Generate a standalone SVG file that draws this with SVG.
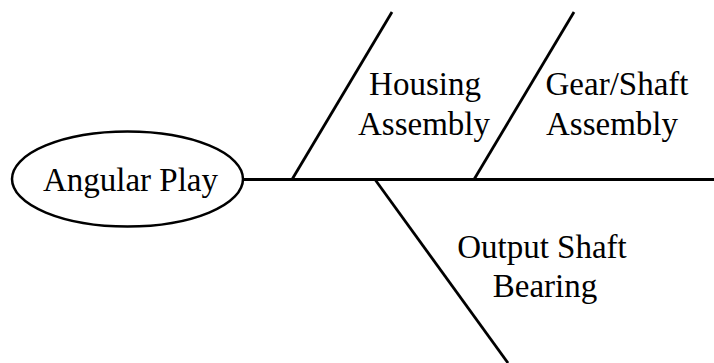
<svg xmlns="http://www.w3.org/2000/svg" width="714" height="363" viewBox="0 0 714 363">
<style>
.t{font-family:"Liberation Serif","Times New Roman",serif;font-size:33px;fill:#000;text-anchor:middle}
.ln{stroke:#000;stroke-width:2.8;fill:none;stroke-linecap:butt}
</style>
<rect width="714" height="363" fill="#fff"/>
<g id="connectors">
<line class="ln" x1="243" y1="179.5" x2="714" y2="179.5"/>
<line class="ln" x1="292" y1="179.5" x2="392" y2="12"/>
<line class="ln" x1="474" y1="179.5" x2="574" y2="12"/>
<line class="ln" x1="375" y1="179.5" x2="508" y2="363"/>
</g>
<g id="angular-play">
<ellipse cx="127.5" cy="179" rx="115.5" ry="47.5" fill="#fff" stroke="#000" stroke-width="2.5"/>
<text class="t" x="130.5" y="191" textLength="175" lengthAdjust="spacingAndGlyphs">Angular Play</text>
</g>
<g id="housing-assembly">
<text class="t" x="425" y="95">Housing</text>
<text class="t" x="424" y="135">Assembly</text>
</g>
<g id="gear-shaft-assembly">
<text class="t" x="617" y="95">Gear/Shaft</text>
<text class="t" x="612" y="135">Assembly</text>
</g>
<g id="output-shaft-bearing">
<text class="t" x="542" y="258">Output Shaft</text>
<text class="t" x="545" y="297">Bearing</text>
</g>
</svg>
